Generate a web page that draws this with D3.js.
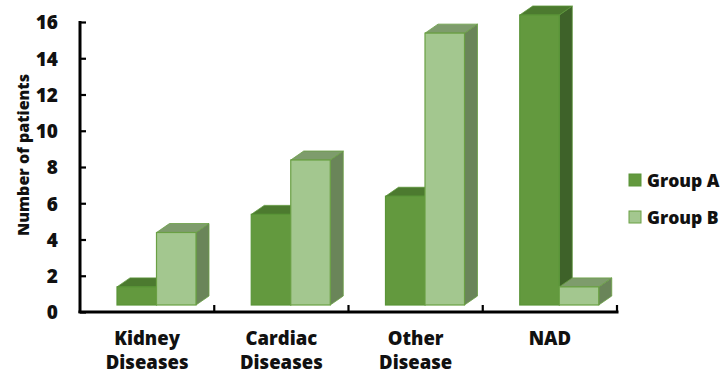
<!DOCTYPE html>
<html>
<head>
<meta charset="utf-8">
<script src="https://cdn.jsdelivr.net/npm/d3@7"></script>
<style>
  html, body { margin: 0; padding: 0; background: #ffffff; }
  svg { display: block; }
  text { font-family: "Open Sans", "Liberation Sans", sans-serif; font-weight: 800; fill: #111; }
</style>
</head>
<body>
<svg id="chart" width="726" height="376"></svg>
<script>
// Patients per diagnosis category, by study group
const categories = [["Kidney", "Diseases"], ["Cardiac", "Diseases"], ["Other", "Disease"], ["NAD"]];
const groups = ["Group A", "Group B"];
const groupA = [1, 5, 6, 16];
const groupB = [4, 8, 15, 1];
const yTicks = [0, 2, 4, 6, 8, 10, 12, 14, 16];

const series = [groupA, groupB];

// face colours: front, top, side, outline
const palette = [
  { front: "#63993e", top: "#4c7a2f", side: "#3e6229", stroke: "#5a9438", swatch: "#63993e" },
  { front: "#a3c78f", top: "#7e9c6c", side: "#6a8559", stroke: "#6aa044", swatch: "#a3c78f" }
];

const svg = d3.select("#chart");

const plot = { left: 80, right: 617, top: 22, bottom: 312 };
const depth = { dx: 13, dy: -9 };   // receding offset of the 3D boxes
const lift = 7;                     // boxes stand slightly back from the front axis

const x = d3.scaleBand()
  .domain(d3.range(categories.length))
  .range([plot.left, plot.right])
  .paddingInner(0).paddingOuter(0);

const inner = d3.scaleBand()
  .domain(d3.range(groups.length))
  .range([37, 37 + 79])
  .padding(0);

const y = d3.scaleLinear().domain([0, 16]).range([plot.bottom, plot.top]);

// bars (group A first, so group B's faces overlap it)
const barsG = svg.append("g");
categories.forEach((c, ci) => {
  series.forEach((vals, gi) => {
    const v = vals[ci];
    const x0 = x(ci) + inner(gi);
    const w = inner.bandwidth();
    const yTop = y(v) - lift;
    const yBase = y(0) - lift;
    const col = palette[gi];
    const g = barsG.append("g");
    // side face
    g.append("path")
      .attr("d", `M${x0 + w},${yTop} L${x0 + w + depth.dx},${yTop + depth.dy} L${x0 + w + depth.dx},${yBase + depth.dy} L${x0 + w},${yBase} Z`)
      .attr("fill", col.side).attr("stroke", col.stroke).attr("stroke-width", 0.8).attr("stroke-linejoin", "round");
    // top face
    g.append("path")
      .attr("d", `M${x0},${yTop} L${x0 + depth.dx},${yTop + depth.dy} L${x0 + w + depth.dx},${yTop + depth.dy} L${x0 + w},${yTop} Z`)
      .attr("fill", col.top).attr("stroke", col.stroke).attr("stroke-width", 0.8).attr("stroke-linejoin", "round");
    // front face
    g.append("rect")
      .attr("x", x0).attr("y", yTop)
      .attr("width", w).attr("height", yBase - yTop)
      .attr("fill", col.front).attr("stroke", col.stroke).attr("stroke-width", 1.2);
  });
});

// y axis
const yAxis = svg.append("g")
  .attr("transform", `translate(${plot.left},0)`)
  .call(d3.axisLeft(y).tickValues(yTicks).tickSize(-6).tickPadding(20).tickFormat(d3.format("d")));
yAxis.select(".domain").attr("stroke", "#000").attr("stroke-width", 3).attr("d", `M0,${plot.top - 1}V${plot.bottom + 1}`);
yAxis.selectAll(".tick line").attr("stroke", "#000").attr("stroke-width", 2.2);
yAxis.selectAll(".tick text")
  .attr("font-size", 19).attr("font-family", "'Open Sans', sans-serif").attr("font-weight", 800)
  .attr("fill", "#111").attr("x", -22).attr("dy", "0.36em");

// x axis with boundary ticks pointing inward
const xAxisG = svg.append("g");
xAxisG.append("line")
  .attr("x1", plot.left - 1.5).attr("x2", plot.right + 1.5)
  .attr("y1", plot.bottom).attr("y2", plot.bottom)
  .attr("stroke", "#000").attr("stroke-width", 3);
const bounds = d3.range(categories.length).map(i => x(i)).concat([x(categories.length - 1) + x.bandwidth()]);
xAxisG.selectAll("line.bt").data(bounds.slice(1)).join("line").attr("class", "bt")
  .attr("x1", d => d).attr("x2", d => d)
  .attr("y1", plot.bottom).attr("y2", plot.bottom - 7)
  .attr("stroke", "#000").attr("stroke-width", 2.2);

// category labels
const labG = svg.append("g");
categories.forEach((lines, ci) => {
  const t = labG.append("text")
    .attr("x", x(ci) + x.bandwidth() / 2)
    .attr("y", 345)
    .attr("text-anchor", "middle")
    .attr("font-size", 18.5);
  lines.forEach((ln, li) => {
    t.append("tspan").attr("x", x(ci) + x.bandwidth() / 2).attr("dy", li === 0 ? 0 : 24).text(ln);
  });
});

// y axis title
svg.append("text")
  .attr("transform", "translate(29,155) rotate(-90)")
  .attr("text-anchor", "middle")
  .attr("font-size", 16)
  .text("Number of patients");

// legend
const leg = svg.append("g").attr("transform", "translate(629,174)");
groups.forEach((gname, gi) => {
  const row = leg.append("g").attr("transform", `translate(0,${gi * 37})`);
  row.append("rect").attr("width", 12).attr("height", 12)
    .attr("fill", palette[gi].swatch).attr("stroke", palette[gi].stroke).attr("stroke-width", 1);
  row.append("text").attr("x", 18).attr("y", 12.5).attr("font-size", 17.5).text(gname);
});
</script>
</body>
</html>
